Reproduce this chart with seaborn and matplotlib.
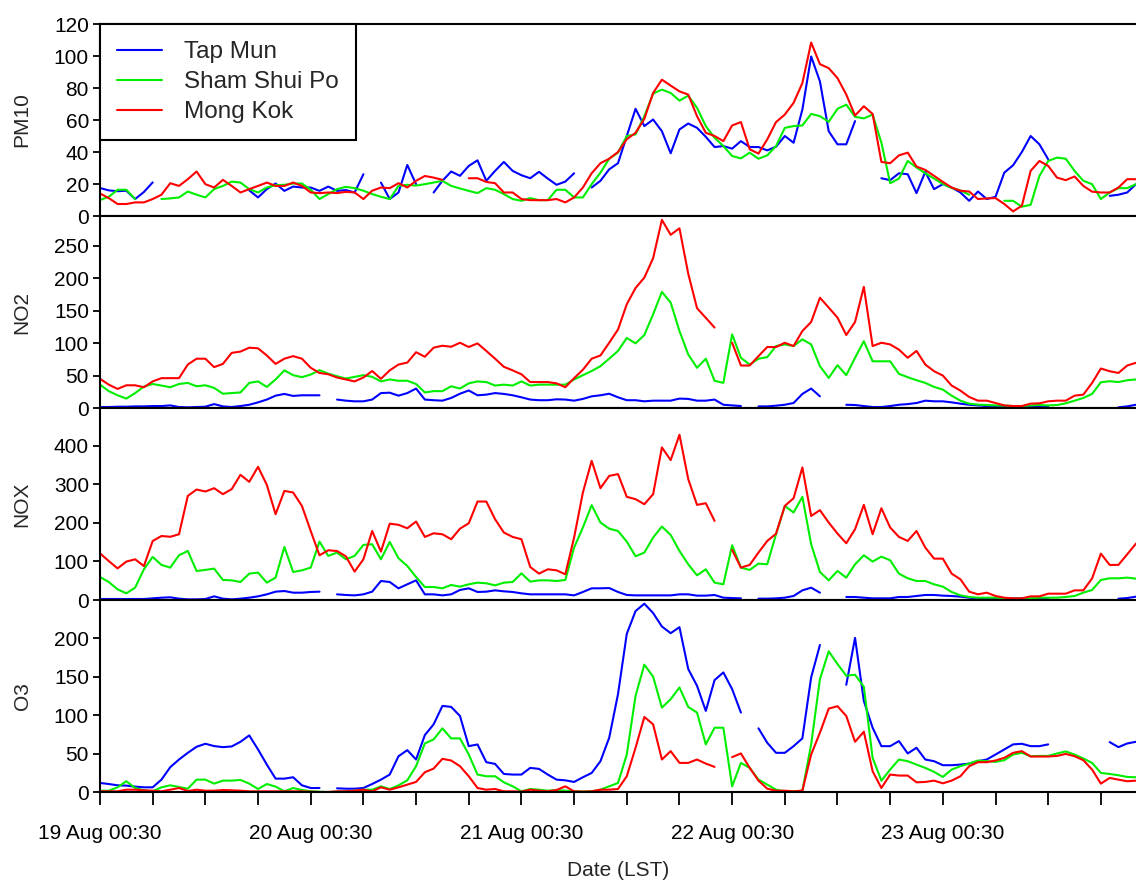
import numpy as np
import pandas as pd
import matplotlib
matplotlib.use("Agg")
import matplotlib.pyplot as plt
import matplotlib.dates as mdates
from matplotlib.lines import Line2D
import seaborn as sns

nan = np.nan

stations = ["Tap Mun", "Sham Shui Po", "Mong Kok"]
colors = ["#0000FF", "#00EE00", "#FF0000"]
pollutants = ["PM10", "NO2", "NOX", "O3"]
y_tops = [120, 296, 498, 250]
y_ticks = [list(range(0, 121, 20)), list(range(0, 251, 50)),
           list(range(0, 401, 100)), list(range(0, 201, 50))]
start_time = "2014-08-19 00:30"
n_hours = 119

# ---------------- PM10 ----------------
pm10_tap = [17.5, 16, 15.5, 15.8, 10.6, 15, 21, nan, nan, nan,
            nan, nan, nan, nan, nan, nan, nan, 16, 11.6, 16.8,
            20.3, 15.7, 18.4, 17.8, 17.8, 15.7, 18.4, 15.7, 16.2, 14.7,
            26.1, nan, 20.9, 10.6, 14.7, 31.9, 19.9, nan, 14.7, 22,
            27.8, 25.1, 31.3, 34.8, 22, 28.2, 33.8, 28.2, 25.5, 23.6,
            27.6, 23.4, 19.5, 21.5, 26.7, nan, 17.8, 22, 29.2, 33,
            50, 67, 56.2, 60.3, 53, 39.2, 54.1, 57.8, 55.1, 49.5,
            43.1, 43.7, 42.1, 46.8, 43.1, 43.1, 41, 43.3, 50, 45.8,
            66.5, 99.7, 84.1, 53, 44.8, 44.8, 59.3, nan, nan, 23.6,
            22.4, 26.7, 26.1, 14.3, 27.6, 16.8, 19.9, 17.8, 14.7, 9.5,
            15.3, 10.6, 12, 27.1, 31.7, 40, 50, 44.8, 35.4, nan,
            nan, nan, nan, nan, nan, 12.6, 13.3, 14.7, 19.9]
pm10_ssp = [10, 12, 16.4, 16.4, 10.6, nan, nan, 10.6, 11, 11.6,
            15.3, 13.3, 11.6, 16.8, 18.8, 21.5, 20.9, 16.8, 14.7, 17.8,
            19.3, 19.5, 20.3, 20.3, 16.4, 10.6, 13.7, 16.8, 18.2, 17.4,
            15.8, 13.7, 12, 10.6, 18.8, 19.5, 19, 19.9, 20.9, 22,
            18.8, 17.2, 15.7, 14.3, 17.4, 16.4, 13.7, 10.6, 9.5, 11.2,
            9.9, 9.9, 16.4, 16.4, 11.6, 11.6, 19.9, 27.1, 35.8, 39.6,
            50, 51, 62.4, 76.5, 79, 76.9, 72.1, 75.2, 67.6, 56.2,
            48.9, 43.7, 37.5, 36, 39.6, 35.8, 37.9, 43.7, 55.1, 56.2,
            56.6, 63.8, 62.4, 58.9, 67, 69.6, 62, 61, 63.4, 45.8,
            20.5, 23.4, 34.4, 30.3, 26.7, 23.4, 20, 17.5, 16, 13.3,
            nan, nan, nan, 9.5, 9.5, 5.8, 7, 25, 34.4, 36.5,
            35.8, 28.2, 22, 19.9, 10.6, 14.7, 17.4, 17.4, 19.9]
pm10_mk = [14.1, 11.2, 7.5, 7.5, 8.5, 8.5, 10.6, 13.3, 20.5, 18.8,
           23, 27.8, 19.9, 17.8, 22.6, 18.8, 14.7, 16.8, 18.8, 20.9,
           18.8, 18.8, 20.9, 18.8, 14.7, 14.3, 14.7, 14.3, 15.1, 14.7,
           10.6, 15.8, 17.8, 17.4, 20.5, 17.8, 22, 25, 24, 22.6,
           nan, nan, 23.6, 23.6, 21.3, 20.5, 14.7, 14.7, 10.6, 9.9,
           9.9, 9.9, 10.6, 8.5, 11.6, 17.8, 26.7, 33, 35.8, 40,
           48, 52, 60.7, 76.9, 85.2, 81.5, 77.9, 75.9, 62.4, 52,
           50, 46.8, 56.6, 58.7, 41.7, 39, 47.9, 58.7, 63.4, 70.7,
           83.1, 108.4, 94.9, 92.4, 86.2, 75.9, 62.8, 68.6, 63.8, 33.8,
           33, 37.9, 39.6, 30.9, 28.8, 25.1, 21.3, 17.8, 15.8, 15.3,
           10.6, 11, 11.2, 7.5, 2.9, 6.4, 28.2, 34.4, 31.3, 24,
           22.4, 24.7, 18.8, 15.2, 14.7, 14.7, 17.8, 23, 23]

# ---------------- NO2 ----------------
no2_tap = [1.5, 1.5, 2, 2, 2.5, 2.5, 3, 3, 4, 1.5,
           1, 1.5, 2, 6, 2.5, 1.5, 3, 5, 8.7, 13,
           19, 21.7, 18.6, 19.6, 19.6, 19.6, nan, 13, 11.3, 10.3,
           10.3, 13, 23, 23.6, 19, 23, 30, 13, 12, 11.3,
           15.5, 22, 27, 19.6, 20.6, 23, 21.7, 19.6, 16.5, 13,
           12, 12, 13.4, 13, 11.3, 14, 18, 19.6, 22, 16.5,
           12, 12, 10.3, 11.3, 11.3, 11.3, 14.5, 14, 11.3, 11.3,
           13, 5, 4, 3, nan, 2.5, 2.5, 3.6, 5, 7.7,
           21.7, 30, 18, nan, nan, 5, 4.6, 3, 1.5, 1.5,
           3, 5, 6, 7.7, 11.3, 10.3, 10.3, 8.7, 6.7, 5,
           4, 3, 2.5, 2.5, 2, 2, 2, 2, 2, nan,
           nan, nan, nan, nan, nan, nan, 1, 2.5, 5]
no2_ssp = [36, 26, 19.6, 14.5, 23, 33, 37, 34.6, 32, 37,
           38.7, 33.5, 35, 31, 22, 23, 24, 38.7, 41, 32.5,
           44, 58, 50.6, 47.5, 51.6, 58.3, 53, 49, 45.4, 48,
           50.6, 48, 41, 44, 42, 42, 37, 24, 26, 26,
           33.5, 30, 38, 41, 40, 34.6, 36, 34.6, 41, 34.6,
           36, 36, 36, 36, 44, 50.6, 57, 64.5, 76, 88,
           108, 99.6, 112.5, 144.5, 179, 162.5, 118.7, 82.5, 62, 76,
           42, 38.7, 113.5, 77.4, 67, 76, 78.4, 95.5, 98, 95.5,
           105.8, 98, 64.5, 46.4, 66, 50.6, 77.4, 103, 72, 72,
           72, 52.6, 47.5, 42.8, 38.7, 32.5, 28.4, 19, 11.3, 6.7,
           5.2, 4.6, 4, 3.6, 3, 3, 4, 4.6, 4, 4.6,
           7.2, 11.3, 15.5, 21.7, 39.7, 41.3, 40, 42.8, 44]
no2_mk = [45, 36, 29.4, 35, 35, 32, 41, 46, 46, 46,
          67, 76, 76, 63, 68, 85, 87, 93, 92, 81,
          68, 76, 80, 76, 62, 54, 52, 47, 44, 41,
          47, 57, 45, 58, 67, 70, 86, 79, 93, 96,
          94.4, 100.6, 94, 99.6, 88, 76, 63.5, 58, 52, 40,
          40, 40, 38, 32, 46, 59, 76, 81, 100.6, 121,
          160, 185, 201, 231, 290, 267, 277, 207, 154, 139,
          124, nan, 100.6, 65.5, 65.5, 80, 94, 94, 100.6, 95.5,
          118.7, 132.6, 170, 154.8, 139.3, 112.5, 132.6, 186.8, 95.5, 100.6,
          98, 90, 77.4, 88, 67, 56.7, 50, 34.6, 26.8, 17,
          11.3, 11.3, 7.7, 4, 3, 3, 6.7, 7.2, 10.3, 11.3,
          11.3, 19, 20.6, 38.7, 60.9, 56.7, 54, 65.5, 69.7]

# ---------------- NOX ----------------
nox_tap = [2.6, 2.6, 2.6, 2.6, 2.6, 2.6, 4.3, 6, 7, 3.5,
           1.7, 1.7, 2.6, 9.5, 3.5, 1.7, 3.5, 6, 9.5, 14.7,
           21.6, 23.3, 19, 19, 20.8, 21.6, nan, 14.7, 13, 12,
           14.7, 21.6, 49.3, 46.7, 30.3, 40.7, 51, 14.7, 14.7, 12,
           14.7, 26, 30.3, 20.8, 21.6, 25, 22.5, 20.8, 17.3, 14.7,
           14.7, 14.7, 14.7, 14.7, 12, 20.8, 30.3, 30.3, 31, 20.8,
           13, 12, 12, 12, 12, 12, 14.7, 14.7, 11.3, 11.3,
           13, 6, 5, 4.3, nan, 3.5, 3.5, 4.3, 6, 10.4,
           25, 32, 19, nan, nan, 7.8, 7.8, 6, 4.3, 4.3,
           4.3, 7.8, 7.8, 10.4, 13, 13, 11.3, 10.4, 8.7, 6,
           4, 4, 4, 4, 4, 4, 4, 4, 4, nan,
           nan, nan, nan, nan, nan, nan, 3.5, 5, 8.7]
nox_ssp = [59.7, 46.7, 27.7, 17.3, 32, 79.6, 111.7, 91, 84, 116,
           127.3, 75.3, 78, 81.4, 52, 51, 46.7, 68.4, 71, 45,
           58, 137.6, 72.7, 77, 84, 151.5, 114.3, 123, 105.6, 114.3,
           142.9, 144.6, 105.6, 150.6, 108.2, 88.3, 59.7, 33.7, 33.7, 30.3,
           39, 34.6, 40.7, 45, 43.3, 38, 45, 46.7, 69.2, 47.6,
           51, 51, 49.3, 52, 136, 188, 246, 201, 185, 179,
           151.5, 113.4, 123, 162, 190.5, 168.8, 127.3, 92.6, 64, 79.6,
           45, 40.7, 142, 84, 78, 94.4, 92.6, 170.5, 244, 227,
           267.6, 144.6, 72.7, 51, 75.3, 58, 92.6, 116, 99.6, 112.5,
           103, 68.4, 56.3, 49.3, 49.3, 40.7, 34.6, 20.8, 12, 7.8,
           6, 6, 6, 4.3, 3.5, 3.5, 4.3, 6, 6, 6,
           7.8, 10.4, 19, 26, 52, 56.3, 56.3, 58, 55.4]
nox_mk = [121, 101, 82, 99.6, 105.6, 88, 153, 166, 164, 170.5,
          270, 286.6, 281.4, 290, 274.5, 287.5, 324.7, 306.5, 345.5, 298.7,
          222.5, 283, 278.8, 244, 179, 116, 129, 127, 113.4, 73.6,
          105.6, 179, 125.5, 198, 195, 186, 203.5, 163.6, 173, 170.5,
          157.6, 185, 199, 255.4, 255.4, 209.5, 175, 163.6, 157.6, 85.7,
          68.4, 79.6, 77, 66.7, 162, 278.8, 361, 290, 322, 326.5,
          267.6, 261.5, 248.5, 274.5, 395.7, 362.8, 428.6, 313.5, 246.8, 251,
          205.2, nan, 130, 84, 91, 123, 153.2, 172, 244, 264,
          343.8, 218, 233, 200.9, 172.3, 147.2, 183.6, 246.8, 170.5, 238,
          188, 163.6, 153.2, 179, 136, 107.3, 107.3, 68.4, 53.7, 21.6,
          14.7, 19, 10.4, 6, 4.3, 4.3, 9.5, 9.5, 16.4, 16.4,
          16.4, 25, 25, 56, 120.3, 91, 91, 118.6, 146.3]

# ---------------- O3 ----------------
o3_tap = [11.8, 10.4, 8.7, 8.3, 7, 6.1, 6.1, 16.1, 32.3, 42.3,
          51, 58.9, 62.8, 59.8, 58.4, 59.3, 65.4, 73.7, 55.4, 35.7,
          17.4, 17.4, 19.2, 8.7, 5.2, 5.2, nan, 4.8, 4.3, 4.3,
          5.2, 10.4, 16.1, 22.7, 46.6, 54.5, 42.3, 74.1, 88.1, 112.1,
          110.8, 99, 59.7, 61.9, 38.8, 36.6, 23.5, 22.7, 22.7, 31.4,
          30.1, 22.7, 16.1, 15.2, 13.1, 19.2, 24.8, 40.1, 70.7, 127.4,
          205.9, 235.6, 245.2, 233, 215.5, 206.8, 214.6, 160.1, 138.3, 105.6,
          145.7, 155.7, 133.9, 103.4, nan, 82.9, 64.1, 51, 51, 59.7,
          69.8, 149.2, 191.5, nan, nan, 139.6, 200.7, 118.6, 83.7, 59.7,
          59.7, 66.3, 50.2, 57.6, 42.3, 40.1, 34.9, 34.9, 35.7, 37,
          40.1, 42.3, 48.8, 55.4, 62, 62.8, 59.7, 59.7, 62, nan,
          nan, nan, nan, nan, nan, 65, 58.4, 63.2, 65.4]
o3_ssp = [1.7, 1.7, 6.1, 14, 5.2, 2.2, 0.9, 6.1, 8.7, 6.5,
          4.3, 16.1, 16.1, 10.9, 14.8, 14.8, 15.7, 10.9, 3.9, 10.4,
          7, 0.9, 5.2, 2.6, 0.9, 0.4, 0, 0.4, 0.9, 1.7,
          3, 3, 7.4, 3.9, 8.7, 15.2, 33.6, 63.2, 68.5, 82.9,
          69.8, 69.8, 48.8, 22.7, 20.5, 20.5, 12.6, 7.4, 0.9, 3.9,
          3, 1.7, 2.6, 1.7, 0.9, 0.5, 0.9, 3, 7.4, 11.7,
          48.8, 125.2, 165.8, 150.1, 109.9, 120.8, 136.1, 110.8, 103.4, 62,
          83.7, 83.7, 7.4, 37.9, 31.4, 16.1, 9.6, 3, 0.9, 0.9,
          1.7, 62, 147, 183.2, 166.6, 151.4, 152.7, 137, 44.5, 14.8,
          29.2, 42.3, 40.1, 35.7, 31.4, 26.2, 19.6, 29.2, 33.6, 37,
          41, 40.1, 39.2, 41.4, 48.8, 51, 46.6, 47, 47, 50.2,
          52.8, 48.8, 43.6, 37.9, 24.8, 23.5, 21.8, 19.6, 19.2]
o3_mk = [0.9, 0.9, 0.9, 3, 3, 2.2, 1.7, 0.9, 3, 5.2,
         1.3, 3, 1.7, 1.7, 2.6, 2.2, 1.7, 0.9, 0.9, 0.9,
         0.9, 0.9, 0.9, 0.9, 0.4, 0, 0, 0.9, 0.9, 1.7,
         3, 0.9, 6.1, 3, 6.1, 9.6, 13.1, 25.7, 30.5, 43.2,
         41, 33.6, 20.5, 5.2, 3, 3.9, 0.9, 0.9, 0.5, 3,
         1.7, 0.9, 2.6, 7.4, 0.9, 0.5, 0.9, 3, 3, 3.9,
         20.5, 57.6, 97.7, 88.1, 42.3, 53.2, 37.9, 37.9, 42.3, 37,
         32.7, nan, 45.4, 50.2, 31.4, 14.8, 4.3, 1.7, 1.7, 0.9,
         1.7, 48.8, 77.2, 108.6, 111.7, 99, 65.4, 78.5, 27, 5.2,
         22.7, 21.4, 21.4, 12.6, 13.1, 14.8, 11.3, 14.8, 20.5, 33.6,
         38.8, 38.8, 41, 44.5, 51, 53.2, 46.2, 46.2, 46.2, 47,
         49.6, 46.6, 41.4, 29.2, 10.9, 18.3, 16.1, 14, 14.8]

panel_data = {
    "PM10": [pm10_tap, pm10_ssp, pm10_mk],
    "NO2": [no2_tap, no2_ssp, no2_mk],
    "NOX": [nox_tap, nox_ssp, nox_mk],
    "O3": [o3_tap, o3_ssp, o3_mk],
}

times = pd.date_range(start_time, periods=n_hours, freq="h")


def long_frame(series_list):
    frames = []
    for name, vals in zip(stations, series_list):
        v = np.asarray(vals, dtype=float)
        seg = np.cumsum(np.isnan(v))
        df = pd.DataFrame({"time": times, "value": v, "station": name, "seg": seg})
        frames.append(df.dropna(subset=["value"]))
    return pd.concat(frames, ignore_index=True)


sns.set_theme(style="ticks")
plt.rcParams["font.family"] = ["Liberation Sans", "DejaVu Sans"]

fig, axes = plt.subplots(4, 1, sharex=True, figsize=(11.36, 8.82), dpi=100)
fig.subplots_adjust(left=100 / 1136, right=1.0, top=1 - 24 / 882,
                    bottom=1 - 792 / 882, hspace=0)

palette = dict(zip(stations, colors))
t0 = times[0]
t_end = t0 + pd.Timedelta(hours=118)

for ax, pol, ytop, yt in zip(axes, pollutants, y_tops, y_ticks):
    df = long_frame(panel_data[pol])
    sns.lineplot(data=df, x="time", y="value", hue="station", units="seg",
                 estimator=None, hue_order=stations, palette=palette,
                 linewidth=1.5, legend=False, ax=ax, sort=False)
    ax.set_ylim(0, ytop)
    ax.set_xlim(t0, t_end)
    ax.set_yticks(yt)
    ax.set_ylabel(pol, fontsize=15)
    ax.yaxis.set_label_coords(-0.066, 0.5)
    ax.set_xlabel("")
    for s in ["top", "left", "bottom"]:
        ax.spines[s].set_linewidth(1.5)
        ax.spines[s].set_color("black")
    ax.spines["right"].set_visible(False)
    ax.tick_params(axis="y", direction="out", length=5, width=1.3,
                   labelsize=15, pad=3, colors="black")
    ax.tick_params(axis="x", which="both", bottom=False, labelbottom=False)

# x axis on the bottom panel
bax = axes[-1]
major = [t0 + pd.Timedelta(hours=24 * k) for k in range(5)]
minor = [t0 + pd.Timedelta(hours=6 * k) for k in range(20)]
bax.xaxis.set_major_locator(matplotlib.ticker.FixedLocator(mdates.date2num(major)))
bax.xaxis.set_minor_locator(matplotlib.ticker.FixedLocator(mdates.date2num(minor)))
bax.xaxis.set_major_formatter(mdates.DateFormatter("%d %b %H:%M"))
bax.tick_params(axis="x", which="both", bottom=True, labelbottom=True,
                direction="out", length=9, width=1.3, labelsize=15, pad=14,
                colors="black")
bax.set_xlabel("Date (LST)", fontsize=15, labelpad=13)

# legend
handles = [Line2D([0], [0], color=c, lw=1.5) for c in colors]
leg = axes[0].legend(handles, stations, loc="upper left", bbox_to_anchor=(0, 1),
                     borderaxespad=0, frameon=True, fancybox=False,
                     edgecolor="black", framealpha=1, fontsize=17.5,
                     handlelength=1.85, handletextpad=0.9, borderpad=0.7,
                     labelspacing=0.33)
leg.get_frame().set_linewidth(1.5)

fig.savefig("out.png", dpi=100)
